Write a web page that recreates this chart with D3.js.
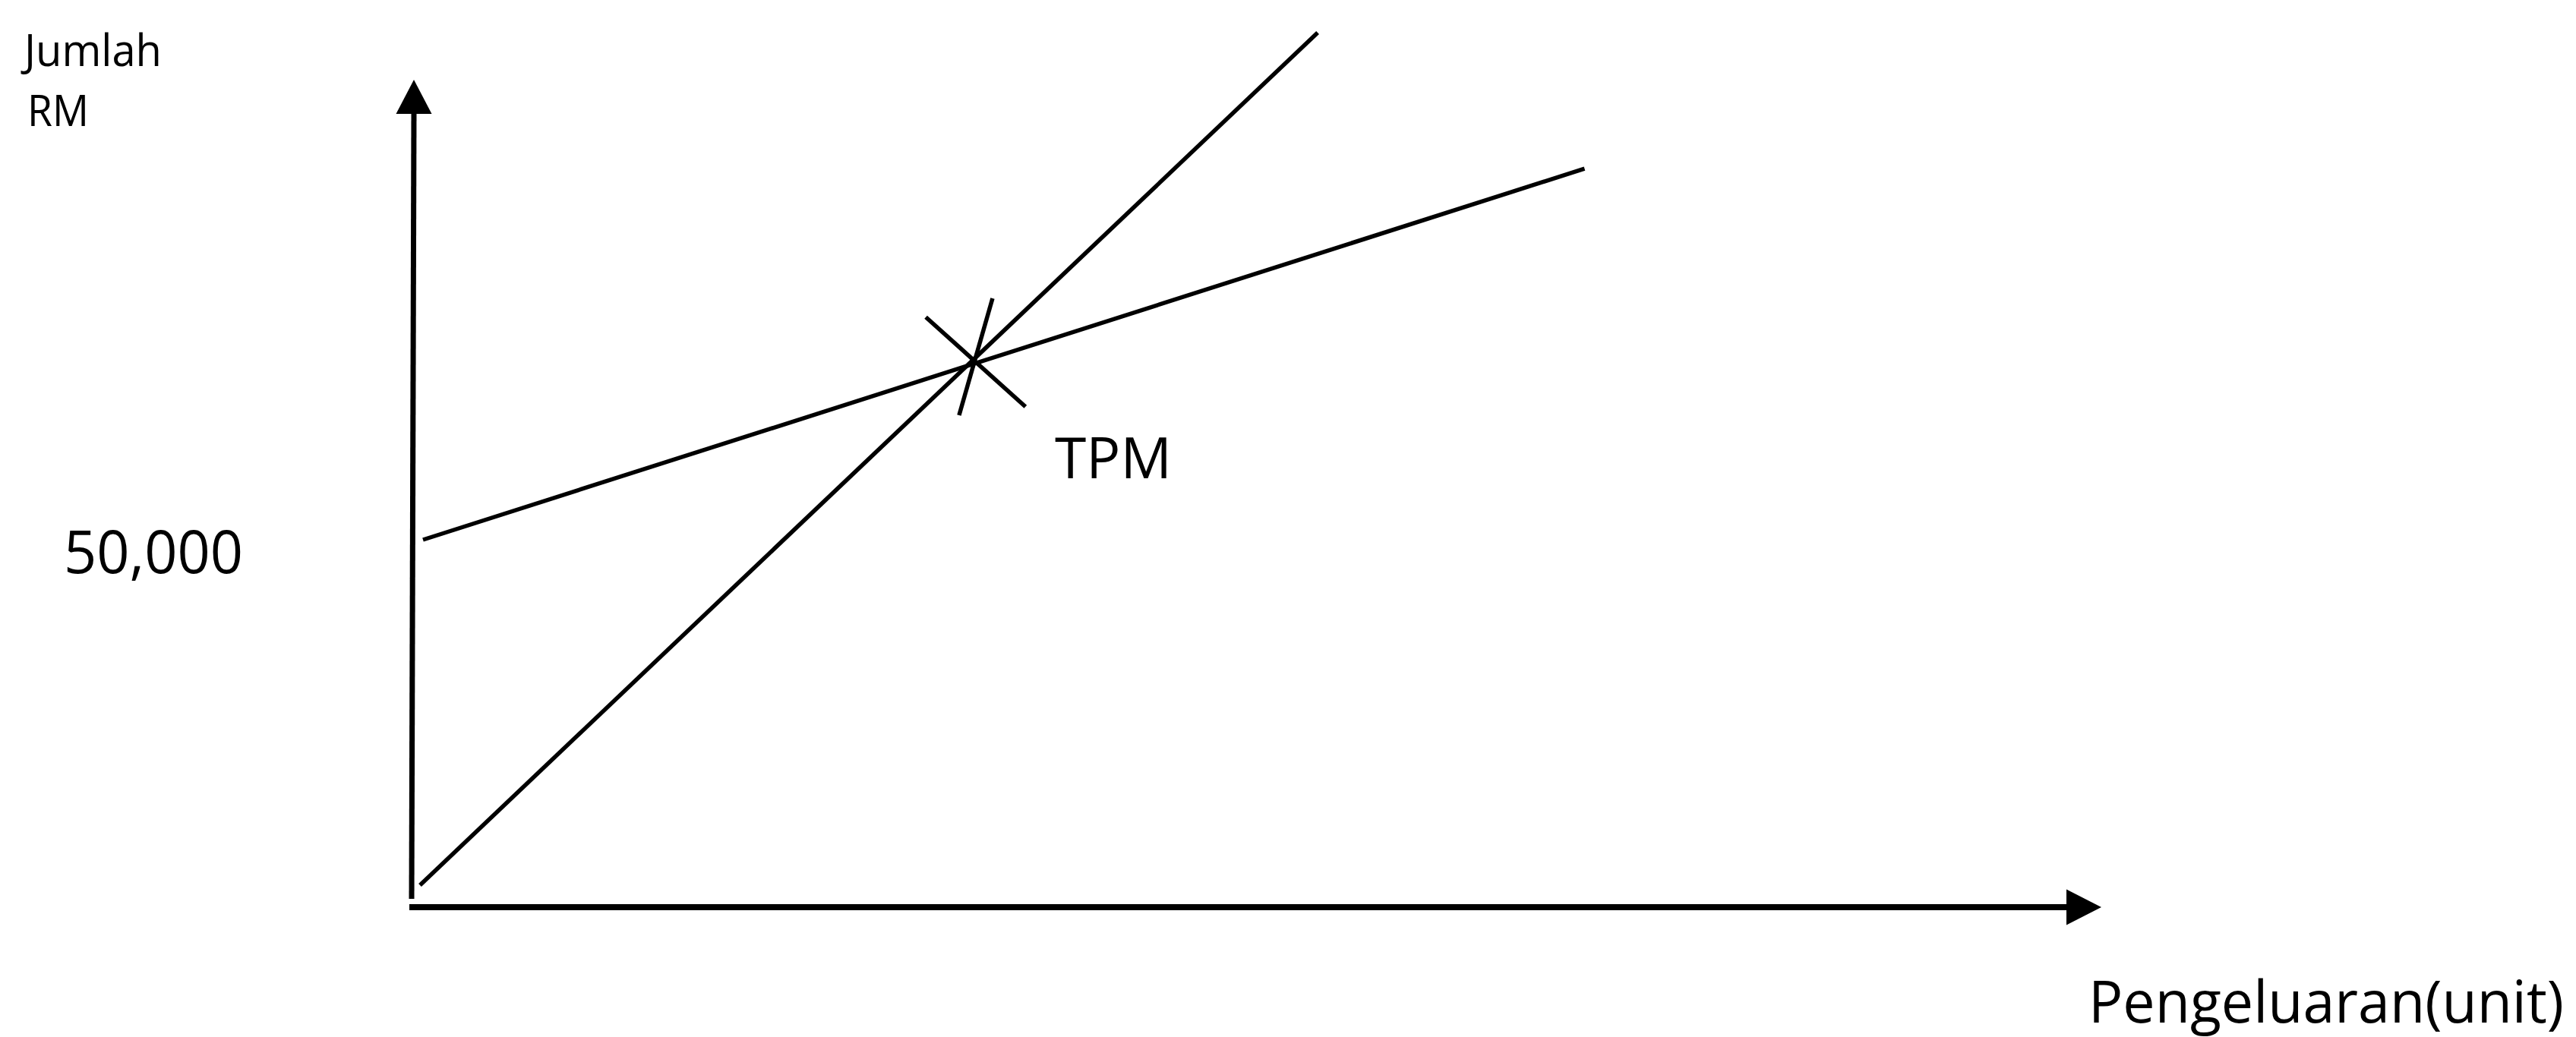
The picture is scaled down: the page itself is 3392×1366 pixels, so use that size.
<!DOCTYPE html>
<html>
<head>
<meta charset="utf-8">
<script src="https://cdn.jsdelivr.net/npm/d3@7"></script>
<style>
  html, body { margin: 0; padding: 0; background: #fff; }
  svg { display: block; }
  text { font-family: "Open Sans", Lato, "Noto Sans", sans-serif; fill: #000; }
</style>
</head>
<body>
<script>
// ---- data (units on x, RM on y) ----
const revenueLine = [ { u: 4.5, rm: 3000 }, { u: 536, rm: 119000 } ];     // steep line
const costLine    = [ { u: 6.3, rm: 50000 }, { u: 694, rm: 100500 } ];    // flatter line (fixed cost 50,000)
const tpmMarkA    = [ { u: 304, rm: 80300 }, { u: 363, rm: 68100 } ];
const tpmMarkB    = [ { u: 343.5, rm: 82850 }, { u: 323.7, rm: 66940 } ];
const yTickValues = [50000];
const yTickLabels = ["50,000"];
const yAxisTitle  = ["Jumlah", "RM"];
const xAxisTitle  = "Pengeluaran(unit)";
const tpmLabel    = "TPM";
const xMax = 1000;      // arrow tip of x axis (units)
const yMax = 112600;    // arrow tip of y axis (RM)

const W = 3392, H = 1366;
const svg = d3.select("body").append("svg").attr("width", W).attr("height", H);
svg.append("rect").attr("width", W).attr("height", H).attr("fill", "#fff");

const x = d3.scaleLinear().domain([0, xMax]).range([543, 2767]);
const y = d3.scaleLinear().domain([0, 50000]).range([1195, 711]);

const line = d3.line().x(d => x(d.u)).y(d => y(d.rm));

// axes
const g = svg.append("g");
const arrowLen = 46, arrowHalf = 23.5;
// y axis
g.append("line")
  .attr("x1", x(0) + 2).attr("y1", y(yMax) + arrowLen - 2)
  .attr("x2", x(0) - 1).attr("y2", y(0) - 11)
  .attr("stroke", "#000").attr("stroke-width", 7);
g.append("path")
  .attr("d", `M${x(0)+2},${y(yMax)} L${x(0)+2-arrowHalf},${y(yMax)+arrowLen-1} L${x(0)+2+arrowHalf},${y(yMax)+arrowLen-1} Z`)
  .attr("fill", "#000");
// x axis
g.append("line")
  .attr("x1", x(0) - 4).attr("y1", y(0))
  .attr("x2", x(xMax) - arrowLen + 2).attr("y2", y(0))
  .attr("stroke", "#000").attr("stroke-width", 8);
g.append("path")
  .attr("d", `M${x(xMax)},${y(0)} L${x(xMax)-arrowLen},${y(0)-arrowHalf} L${x(xMax)-arrowLen},${y(0)+arrowHalf} Z`)
  .attr("fill", "#000");

// lines
[revenueLine, costLine, tpmMarkA, tpmMarkB].forEach(data => {
  svg.append("path").datum(data).attr("d", line)
    .attr("fill", "none").attr("stroke", "#000").attr("stroke-width", 5.5)
    .attr("stroke-linecap", "butt");
});

// y tick label
yTickValues.forEach((v, i) => {
  svg.append("text")
    .attr("x", 84).attr("y", y(v) + 44)
    .attr("font-size", 78)
    .attr("textLength", 236).attr("lengthAdjust", "spacingAndGlyphs")
    .text(yTickLabels[i]);
});

// y axis title
svg.append("text").attr("x", 32).attr("y", 87).attr("font-size", 59)
  .attr("textLength", 181).attr("lengthAdjust", "spacingAndGlyphs")
  .text(yAxisTitle[0]);
svg.append("text").attr("x", 36).attr("y", 166).attr("font-size", 57)
  .attr("textLength", 81).attr("lengthAdjust", "spacingAndGlyphs")
  .text(yAxisTitle[1]);

// x axis title
svg.append("text").attr("x", 2750).attr("y", 1347).attr("font-size", 77)
  .attr("textLength", 626).attr("lengthAdjust", "spacingAndGlyphs")
  .text(xAxisTitle);

// TPM label
svg.append("text").attr("x", 1389).attr("y", 630).attr("font-size", 75)
  .text(tpmLabel);
</script>
</body>
</html>
